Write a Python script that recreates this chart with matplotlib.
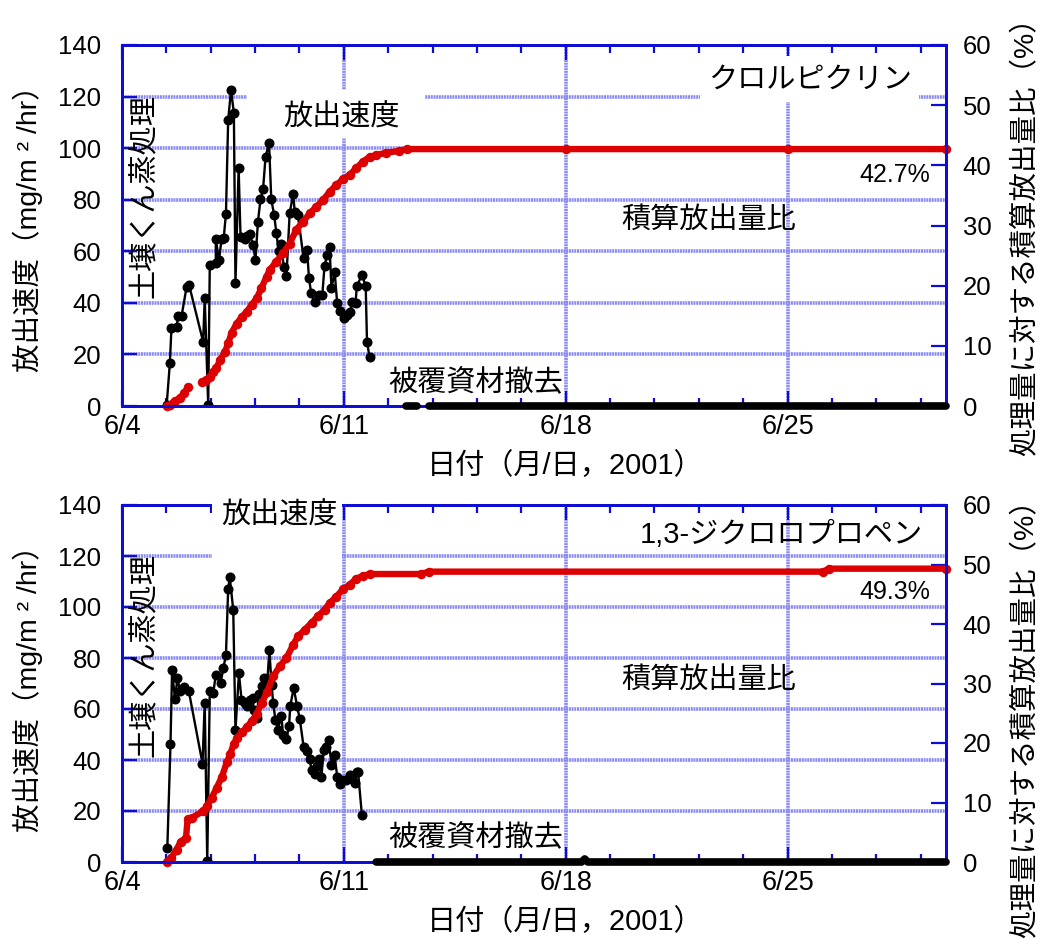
import numpy as np
import matplotlib
matplotlib.use("Agg")
import matplotlib.pyplot as plt
from matplotlib.patches import Rectangle

plt.rcParams['font.family'] = ['Liberation Sans', 'Noto Sans CJK JP']

NAN = float('nan')

# ---- Chloropicrin: emission rate (mg/m2/hr), day of June ----
cp_rate_day = [5.41, 5.51, 5.56, 5.72, 5.77, 5.88, 6.04, 6.12, 6.56, 6.61, 6.72, 6.77,
               6.96, 6.96, 7.06, 7.14, 7.21, 7.28, 7.35, 7.44, 7.53, 7.58, 7.68, 7.74,
               7.87, 7.95, 8.03, 8.14, 8.21, 8.29, 8.37, 8.45, 8.53, 8.64, 8.71, 8.80,
               8.87, 8.94, 9.03, 9.10, 9.19, 9.29, 9.40, 9.45, 9.55, 9.73, 9.84, 9.90,
               9.97, 10.08, 10.21, 10.32, 10.39, 10.47, 10.55, 10.61, 10.71, 10.79, 10.89,
               11.02, 11.11, 11.20, 11.27, 11.37, 11.41, 11.57, 11.69, 11.73, 11.81]
cp_rate = [0.5, 16.6, 30.1, 30.5, 34.9, 34.9, 46.3, 46.8, 24.9, 41.8, 0.5, 54.7,
           55.6, 64.6, 56.6, 64.6, 65.3, 74.5, 110.9, 122.5, 113.7, 47.6, 92.2, 65.7,
           64.6, 65.9, 66.7, 62.4, 56.6, 71.5, 80.2, 84.0, 96.7, 101.9, 80.2, 74.1,
           67.2, 60.2, 62.8, 54.0, 50.4, 74.7, 82.2, 75.4, 74.1, 57.3, 60.5, 49.5,
           43.7, 40.4, 43.0, 43.0, 54.3, 58.6, 61.5, 45.6, 52.1, 39.8, 37.0,
           34.0, 35.3, 36.6, 40.4, 40.1, 46.5, 50.8, 46.5, 24.9, 19.1]
# readings after the cover sheet was removed
cp_tail_day = [12.97, 13.15, 13.30, NAN, 13.70, 18.0, 25.0, 30.0]
cp_tail = [0, 0, 0, NAN, 0, 0, 0, 0]

# ---- Chloropicrin: cumulative emission ratio (%) ----
cp_cum_day = [5.41, 5.51, 5.67, 5.83, 5.95, 6.09, NAN, 6.54, 6.66, 6.77, 6.88, 6.98,
              7.09, 7.25, 7.35, 7.46, 7.62, 7.78, 7.94, 8.09, 8.25, 8.40, 8.56, 8.66,
              8.87, 9.08, 9.29, 9.50, 9.71, 9.92, 10.13, 10.34, 10.55, 10.76, 10.97,
              11.18, 11.39, 11.60, 11.81, 12.02, 12.33, 12.75, 13.0, 18.0, 25.0, 30.0]
cp_cum = [0.0, 0.2, 0.9, 1.3, 2.1, 3.2, NAN, 4.0, 4.4, 4.9, 5.7, 6.3,
          7.6, 9.0, 10.4, 12.2, 13.7, 14.8, 15.7, 16.8, 17.9, 19.6, 21.5, 22.6,
          24.0, 25.4, 27.0, 29.3, 30.6, 32.0, 33.1, 34.2, 35.6, 36.7, 37.7,
          38.4, 39.5, 40.6, 41.4, 41.7, 42.1, 42.4, 42.7, 42.7, 42.7, 42.7]

# ---- 1,3-Dichloropropene: emission rate ----
dcp_rate_day = [5.43, 5.53, 5.58, 5.67, 5.75, 5.83, 5.95, 6.11, 6.54, 6.61, 6.69, 6.77,
                6.88, 6.96, 7.11, 7.20, 7.28, 7.35, 7.40, 7.51, 7.58, 7.69, 7.77, 7.87,
                7.95, 8.03, 8.12, 8.16, 8.25, 8.32, 8.41, 8.48, 8.57, 8.65, 8.72, 8.77,
                8.84, 8.92, 9.03, 9.08, 9.19, 9.27, 9.31, 9.42, 9.52, 9.61, 9.73, 9.84,
                9.92, 9.98, 10.08, 10.15, 10.22, 10.29, 10.37, 10.45, 10.52, 10.61, 10.71,
                10.79, 10.87, 10.98, 11.08, 11.19, 11.26, 11.35, 11.40, 11.45, 11.57]
dcp_rate = [5.6, 46.1, 75.1, 64.0, 72.2, 66.9, 68.6, 66.9, 38.6, 62.4, 0.3, 66.9,
            66.3, 73.5, 70.2, 76.1, 81.3, 107.0, 111.7, 98.9, 51.7, 74.1, 63.7, 62.4,
            61.0, 63.7, 64.3, 59.8, 56.5, 66.0, 69.2, 72.2, 67.9, 83.0, 69.5, 62.4,
            55.8, 51.9, 57.4, 50.0, 48.3, 53.2, 61.3, 68.3, 61.3, 56.1, 45.2, 43.4,
            40.5, 36.0, 34.7, 37.8, 40.5, 33.4, 44.1, 45.2, 47.7, 38.2, 41.8,
            33.4, 30.4, 32.1, 32.1, 34.3, 32.4, 31.1, 35.2, 35.2, 18.3]
dcp_tail_day = [12.02, 12.90, 13.10, 14.70, 18.50, 18.60, 18.70, 25.0, 30.0]
dcp_tail = [0, 0, 0, 0, 0, 1.2, 0, 0, 0]

# ---- 1,3-Dichloropropene: cumulative emission ratio (%) ----
dcp_cum_day = [5.43, 5.56, 5.72, 5.85, 6.02, 6.07, 6.20, 6.57, 6.68, 6.83, 6.99,
               7.15, 7.31, 7.42, 7.52, 7.63, 7.79, 7.94, 8.10, 8.25, 8.41, 8.57,
               8.77, 8.98, 9.19, 9.40, 9.55, 9.76, 9.98, 10.18, 10.39, 10.55, 10.76,
               10.97, 11.18, 11.39, 11.60, 11.84, 13.44, 13.68, 26.13, 26.30, 30.0]
dcp_cum = [0.0, 0.7, 2.1, 3.4, 4.1, 7.2, 7.4, 8.6, 9.4, 10.8, 12.5,
           14.3, 16.8, 18.2, 19.8, 20.9, 21.8, 22.7, 23.7, 24.9, 26.7, 28.5,
           31.2, 32.9, 34.3, 36.5, 37.9, 39.0, 40.2, 41.3, 42.4, 43.5, 44.6,
           45.8, 46.6, 47.6, 48.1, 48.4, 48.4, 48.8, 48.8, 49.3, 49.3]

date_ticks = [4, 11, 18, 25]
date_labels = ['6/4', '6/11', '6/18', '6/25']
rate_ticks = [0, 20, 40, 60, 80, 100, 120, 140]
ratio_ticks = [0, 10, 20, 30, 40, 50, 60]

W, H = 1046, 940
BLUE = '#0c0cd4'
GRID = '#8a8af2'
RED = '#dd0000'

fig = plt.figure(figsize=(W / 100, H / 100), dpi=100)


def fx(x):
    return x / W


def fy(y):
    return 1 - y / H


def white_box(x0, y0, x1, y1):
    fig.add_artist(Rectangle((fx(x0), fy(y1)), fx(x1) - fx(x0), fy(y0) - fy(y1),
                             transform=fig.transFigure, facecolor='white',
                             edgecolor='none', zorder=2))


def label(x, y, s, size=21, rot=0, ha='center'):
    fig.text(fx(x), fy(y), s, fontsize=size, rotation=rot, ha=ha, va='center',
             zorder=4, rotation_mode='anchor')


def panel(top, bottom, rate_day, rate, tail_day, tail, cum_day, cum):
    ax = fig.add_axes([fx(122), fy(bottom), fx(946) - fx(122), fy(top) - fy(bottom)])
    ax.set_xlim(4, 30)
    ax.set_ylim(0, 140)
    ax.set_xticks(date_ticks)
    ax.set_xticklabels(date_labels)
    ax.set_xticks(np.arange(4, 30.01, 1.4), minor=True)
    ax.set_yticks(rate_ticks)
    for s in ax.spines.values():
        s.set_color(BLUE)
        s.set_linewidth(2)
    ax.tick_params(axis='x', which='major', direction='in', top=True, length=10.5,
                   width=1.6, color=BLUE, labelsize=19.5, pad=6)
    ax.tick_params(axis='x', which='minor', direction='in', top=True, length=5.5,
                   width=1.6, color=BLUE)
    ax.tick_params(axis='y', direction='in', length=11, width=1.6, color=BLUE,
                   labelsize=18.5, pad=15)
    for v in rate_ticks[1:-1]:
        ax.axhline(v, color=GRID, lw=2.6, ls=(0, (0.55, 0.2)), zorder=0.5)
    for d in date_ticks[1:]:
        ax.axvline(d, color=GRID, lw=2.6, ls=(0, (0.55, 0.2)), zorder=0.5)

    ax.plot(rate_day, rate, color='black', lw=1.7, marker='o', ms=6.2, zorder=2)

    axr = ax.twinx()
    axr.set_ylim(0, 60)
    axr.set_yticks(ratio_ticks)
    for s in axr.spines.values():
        s.set_color(BLUE)
        s.set_linewidth(2)
    axr.tick_params(axis='y', direction='in', length=11, width=1.6, color=BLUE,
                    labelsize=18.5, pad=12)
    axr.plot(cum_day, cum, color=RED, lw=4.6, marker='o', ms=5.8,
             solid_capstyle='round', clip_on=False, zorder=2)
    # zero readings after cover removal, drawn over the axis frame
    axr.plot(tail_day, tail, color='black', lw=5.5, solid_capstyle='round',
             transform=ax.transData, clip_on=False, zorder=3)
    return ax, axr


panel(45, 406, cp_rate_day, cp_rate, cp_tail_day, cp_tail, cp_cum_day, cp_cum)
panel(505, 862, dcp_rate_day, dcp_rate, dcp_tail_day, dcp_tail, dcp_cum_day, dcp_cum)

# upper panel annotations
white_box(700, 56, 919, 102)
label(810, 80, 'クロルピクリン')
white_box(247, 90, 425, 138)
label(341, 118, '放出速度')
label(930, 175, '42.7%', size=18, ha='right')
label(709, 220, '積算放出量比')
label(476, 383, '被覆資材撤去')
label(145, 196, '土壌くん蒸処理', rot=90)

# lower panel annotations
label(781, 535, '1,3-ジクロロプロペン')
white_box(212, 493, 342, 562)
label(280, 516, '放出速度')
label(930, 592, '49.3%', size=18, ha='right')
label(709, 680, '積算放出量比')
label(476, 838, '被覆資材撤去')
label(145, 655, '土壌くん蒸処理', rot=90)

# axis titles
for yc, yl, yr in [(466, 222, 230), (922, 682, 712)]:
    label(565, yc, '日付（月/日，2001）')
    label(28, yl, '放出速度（mg/m ² /hr）', size=20.5, rot=90)
    label(1026, yr, '処理量に対する積算放出量比（%）', size=20.5, rot=90)

fig.savefig('out.png', dpi=100, facecolor='white')
